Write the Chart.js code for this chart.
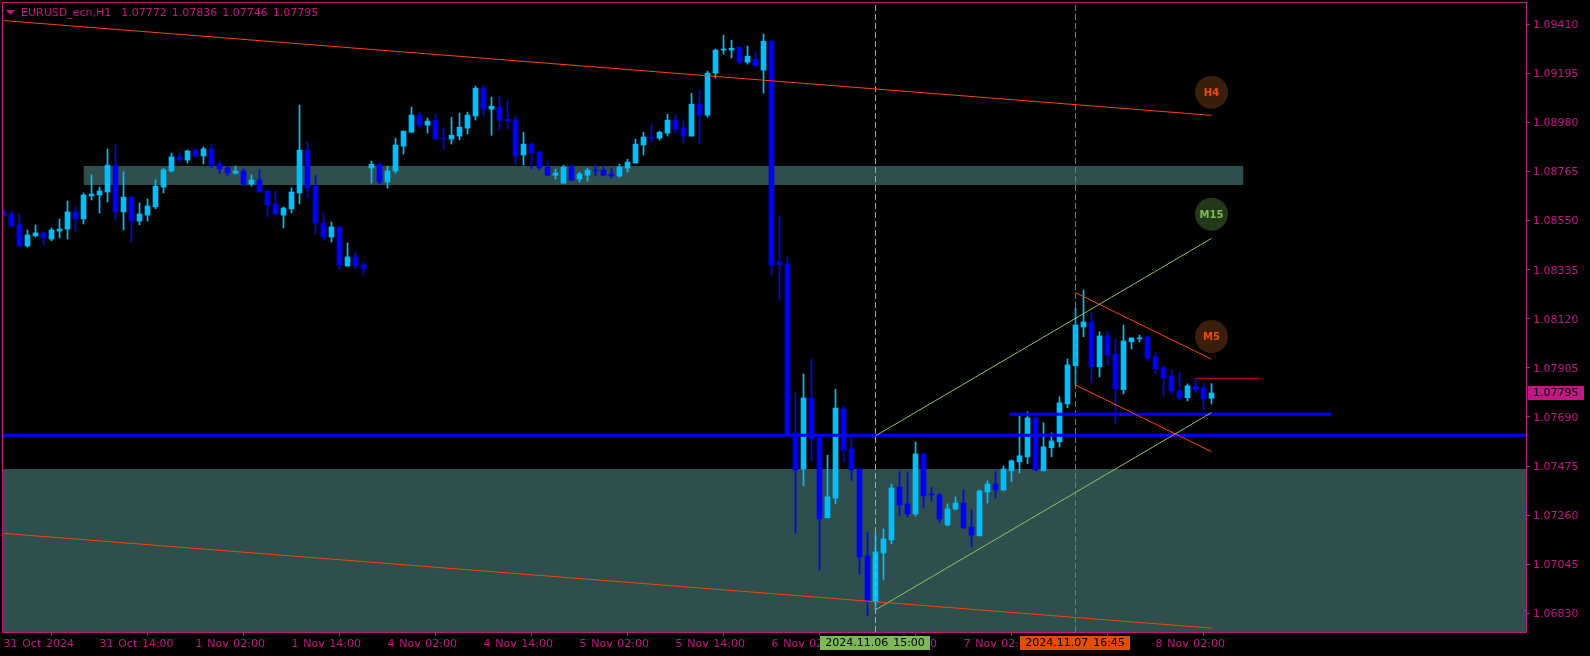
<!DOCTYPE html>
<html>
<head>
<meta charset="utf-8">
<style>
html,body{margin:0;padding:0;background:#000;overflow:hidden}
canvas{display:block}
</style>
<script src="https://cdn.jsdelivr.net/npm/chart.js@4/dist/chart.umd.min.js"></script>
</head>
<body>
<canvas id="c" width="1590" height="656"></canvas>
<script>
const opens = [1.08588,1.08579,1.08531,1.08439,1.08483,1.08496,1.08469,1.08504,1.08513,1.08588,
1.08557,1.08658,1.08662,1.08675,1.08793,1.08588,1.08653,1.08548,1.08574,1.08610,
1.08697,1.08767,1.08829,1.08815,1.08859,1.08833,1.08864,1.08798,1.08780,1.08758,
1.08767,1.08710,1.08728,1.08680,1.08623,1.08574,1.08601,1.08671,1.08859,1.08701,
1.08539,1.08478,1.08522,1.08351,1.08391,1.08356,1.08780,1.08797,1.08719,1.08767,
1.08876,1.08937,1.09012,1.08968,1.08990,1.08911,1.08907,1.08920,1.08955,1.09008,
1.09130,1.09038,1.09047,1.08994,1.08990,1.08837,1.08885,1.08850,1.08784,1.08749,
1.08714,1.08789,1.08732,1.08749,1.08771,1.08771,1.08754,1.08745,1.08780,1.08802,
1.08881,1.08916,1.08911,1.08933,1.08990,1.08955,1.08920,1.09060,1.09012,1.09196,
1.09297,1.09297,1.09310,1.09244,1.09257,1.09209,1.09336,1.08369,1.08360,1.07620,
1.07462,1.07773,1.07598,1.07248,1.07335,1.07725,1.07550,1.07462,1.07081,1.06880,
1.07094,1.07151,1.07383,1.07309,1.07265,1.07528,1.07353,1.07348,1.07217,1.07287,
1.07313,1.07208,1.07169,1.07361,1.07396,1.07370,1.07454,1.07493,1.07515,1.07686,
1.07454,1.07555,1.07581,1.07747,1.07914,1.08084,1.08106,1.07909,1.08045,1.07966,
1.07809,1.08019,1.08032,1.08041,1.07953,1.07905,1.07870,1.07804,1.07774,1.07826,
1.07817,1.07772];
const highs = [1.08593,1.08591,1.08579,1.08509,1.08531,1.08496,1.08518,1.08557,1.08636,1.08610,
1.08671,1.08750,1.08697,1.08864,1.08881,1.08763,1.08653,1.08627,1.08645,1.08728,
1.08780,1.08846,1.08846,1.08859,1.08864,1.08872,1.08885,1.08811,1.08789,1.08789,
1.08776,1.08750,1.08772,1.08680,1.08680,1.08610,1.08693,1.09056,1.08894,1.08750,
1.08583,1.08544,1.08526,1.08452,1.08413,1.08369,1.08811,1.08806,1.08789,1.08911,
1.08942,1.09047,1.09025,1.08999,1.09016,1.08955,1.09003,1.09021,1.09025,1.09139,
1.09143,1.09091,1.09095,1.09078,1.09008,1.08937,1.08889,1.08854,1.08811,1.08775,
1.08793,1.08789,1.08762,1.08780,1.08797,1.08793,1.08780,1.08797,1.08819,1.08907,
1.08937,1.08973,1.08942,1.09016,1.09012,1.08986,1.09108,1.09121,1.09205,1.09301,
1.09362,1.09340,1.09310,1.09314,1.09288,1.09367,1.09336,1.08570,1.08391,1.07795,
1.07878,1.07944,1.07598,1.07523,1.07812,1.07738,1.07602,1.07462,1.07186,1.07180,
1.07199,1.07396,1.07453,1.07445,1.07580,1.07532,1.07383,1.07357,1.07309,1.07340,
1.07370,1.07283,1.07370,1.07410,1.07453,1.07475,1.07502,1.07695,1.07712,1.07690,
1.07664,1.07620,1.07778,1.07944,1.08166,1.08246,1.08146,1.08063,1.08063,1.08032,
1.08093,1.08036,1.08049,1.08041,1.07975,1.07914,1.07896,1.07887,1.07835,1.07857,
1.07839,1.07836];
const lows = [1.08573,1.08522,1.08434,1.08434,1.08478,1.08443,1.08461,1.08474,1.08469,1.08504,
1.08535,1.08640,1.08583,1.08631,1.08553,1.08509,1.08456,1.08531,1.08548,1.08601,
1.08671,1.08763,1.08807,1.08802,1.08829,1.08798,1.08780,1.08758,1.08745,1.08754,
1.08701,1.08701,1.08675,1.08566,1.08574,1.08518,1.08583,1.08623,1.08649,1.08491,
1.08465,1.08456,1.08334,1.08351,1.08338,1.08312,1.08714,1.08710,1.08692,1.08758,
1.08841,1.08937,1.08959,1.08933,1.08907,1.08863,1.08885,1.08903,1.08929,1.08990,
1.09008,1.08924,1.08946,1.08951,1.08797,1.08793,1.08775,1.08771,1.08749,1.08732,
1.08714,1.08727,1.08719,1.08723,1.08745,1.08745,1.08736,1.08740,1.08762,1.08802,
1.08837,1.08894,1.08903,1.08920,1.08933,1.08889,1.08920,1.08885,1.09003,1.09174,
1.09279,1.09262,1.09235,1.09235,1.09227,1.09108,1.08311,1.08202,1.07610,1.07182,
1.07388,1.07497,1.07020,1.07248,1.07309,1.07493,1.07410,1.07002,1.06818,1.06845,
1.06976,1.07134,1.07256,1.07252,1.07256,1.07291,1.07322,1.07226,1.07213,1.07283,
1.07199,1.07121,1.07169,1.07313,1.07335,1.07366,1.07406,1.07445,1.07485,1.07454,
1.07454,1.07515,1.07559,1.07730,1.07830,1.08041,1.07839,1.07865,1.07918,1.07660,
1.07791,1.07988,1.08019,1.07936,1.07879,1.07782,1.07791,1.07765,1.07760,1.07795,
1.07721,1.07746];
const closes = [1.08573,1.08526,1.08439,1.08487,1.08496,1.08474,1.08509,1.08513,1.08588,1.08557,
1.08662,1.08666,1.08680,1.08793,1.08588,1.08653,1.08548,1.08579,1.08614,1.08701,
1.08772,1.08829,1.08815,1.08855,1.08833,1.08864,1.08793,1.08776,1.08758,1.08767,
1.08710,1.08728,1.08675,1.08618,1.08579,1.08605,1.08675,1.08859,1.08693,1.08539,
1.08478,1.08522,1.08356,1.08391,1.08351,1.08338,1.08797,1.08719,1.08767,1.08881,
1.08942,1.09012,1.08968,1.08986,1.08907,1.08907,1.08924,1.08959,1.09012,1.09130,
1.09038,1.09051,1.08990,1.08986,1.08832,1.08885,1.08846,1.08780,1.08749,1.08758,
1.08784,1.08727,1.08754,1.08771,1.08767,1.08749,1.08745,1.08784,1.08806,1.08885,
1.08916,1.08911,1.08937,1.08990,1.08951,1.08920,1.09060,1.09012,1.09196,1.09297,
1.09301,1.09305,1.09244,1.09270,1.09227,1.09336,1.08355,1.08356,1.07615,1.07458,
1.07773,1.07593,1.07243,1.07340,1.07729,1.07545,1.07458,1.07077,1.06884,1.07099,
1.07156,1.07379,1.07304,1.07265,1.07528,1.07344,1.07348,1.07243,1.07287,1.07313,
1.07204,1.07173,1.07366,1.07396,1.07370,1.07462,1.07498,1.07520,1.07686,1.07458,
1.07559,1.07585,1.07752,1.07918,1.08093,1.08106,1.07909,1.08045,1.07962,1.07813,
1.08023,1.08036,1.08036,1.07949,1.07900,1.07861,1.07804,1.07774,1.07826,1.07809,
1.07769,1.07795];

const yTicks = [1.09410,1.09195,1.08980,1.08765,1.08550,1.08335,1.08120,1.07905,1.07690,1.07475,1.07260,1.07045,1.06830];
const xTickIndex = [0,12,24,36,48,60,72,84,96,108,120,132,144];
const xTickLabels = ["31 Oct 2024","31 Oct 14:00","1 Nov 02:00","1 Nov 14:00","4 Nov 02:00","4 Nov 14:00","5 Nov 02:00","5 Nov 14:00","6 Nov 02:00","6 Nov 14:00","7 Nov 02:00","7 Nov 14:00","8 Nov 02:00"];

const Y_MIN = 1.06748, Y_MAX = 1.09503;
const X_MIN = -0.0625, X_MAX = 190.3125;

const h4Line = [[0,1.09426],[151,1.09011]];
const h4LineLow = [[0,1.07180],[151,1.06765]];
const m15Upper = [[109,1.07607],[151,1.08472]];
const m15Lower = [[109,1.06845],[151,1.07709]];
const m5Upper = [[134,1.08234],[151,1.07943]];
const m5Lower = [[134,1.07830],[151,1.07538]];
const mainLevel = [[X_MIN,1.07610],[X_MAX,1.07610]];
const shortLevel = [[125.8,1.07702],[166,1.07702]];
const redLevel = [[149,1.07859],[157,1.07859]];
const vLineM15 = [[109,Y_MIN],[109,Y_MAX]];
const vLineM5 = [[134,Y_MIN],[134,Y_MAX]];
const upperZone = {from:10,to:155,top:1.08789,bottom:1.08706};
const lowerZone = {top:1.07462,bottom:Y_MIN};
const badges = [{name:"H4",x:151,y:1.09112,fill:"#3a1f0c",text:"#ee4a0a"},
                {name:"M15",x:151,y:1.08578,fill:"#24381c",text:"#7fbf50"},
                {name:"M5",x:151,y:1.08042,fill:"#3a1f0c",text:"#ee4a0a"}];
const titleText = "EURUSD_ecn,H1  1.07772 1.07836 1.07746 1.07795";
const stamps = [{x:109,text:"2024.11.06 15:00",fill:"#7db957"},{x:134,text:"2024.11.07 16:45",fill:"#e84c00"}];

const PINK = "#c71585", UP = "#00bfff", DOWN = "#0000ff", ZONE = "#2f4f4f", ORANGE = "#ff4500";
const FONT = '11px "DejaVu Sans"';
const idx = opens.map((_,i)=>i);
const colors = idx.map(i=>closes[i]>=opens[i]?UP:DOWN);
const toXY = a=>a.map(p=>({x:p[0],y:p[1]}));
const line = (pts,color,width,extra)=>Object.assign({type:"line",data:toXY(pts),borderColor:color,borderWidth:width,pointRadius:0,fill:false,order:0,tension:0},extra||{});

const overlay = {
  id:"overlay",
  beforeDraw(chart){
    const c=chart.ctx;c.save();c.fillStyle="#000";c.fillRect(0,0,chart.width,chart.height);c.restore();
    c.wordSpacing="1.2px";
  },
  afterDatasetsDraw(chart){
    const c=chart.ctx,xs=chart.scales.x,ys=chart.scales.y;
    c.save();
    c.textBaseline="middle";
    c.textAlign="center";
    c.font='bold 10px "DejaVu Sans"';
    badges.forEach(b=>{c.fillStyle=b.text;c.fillText(b.name,xs.getPixelForValue(b.x),ys.getPixelForValue(b.y)+1);});
    c.restore();
  },
  afterDraw(chart){
    const c=chart.ctx,xs=chart.scales.x,ys=chart.scales.y;
    c.save();
    c.strokeStyle=PINK;c.lineWidth=1;
    c.strokeRect(2.5,2.5,1524,630);
    c.font=FONT;c.textBaseline="middle";
    // title
    c.fillStyle=PINK;
    c.beginPath();c.moveTo(6,10);c.lineTo(15,10);c.lineTo(10.5,15);c.closePath();c.fill();
    c.textAlign="left";
    c.wordSpacing="1.5px";
    c.fillText(titleText,21,13);
    // last price tag
    const last=closes[closes.length-1],py=Math.round(ys.getPixelForValue(last));
    c.fillStyle=PINK;c.fillRect(1528,py-7,56,14);
    c.fillStyle="#000";c.fillText(last.toFixed(5),1533,py+0.5);
    // time stamps
    stamps.forEach(s=>{
      const cx=Math.floor(xs.getPixelForValue(s.x));
      c.fillStyle=s.fill;c.fillRect(cx-55,636,110,14);
      c.fillStyle="#000";c.textAlign="center";c.fillText(s.text,cx,643.5);
    });
    c.restore();
  }
};

new Chart(document.getElementById("c"),{
  type:"bar",
  plugins:[overlay],
  data:{datasets:[
    Object.assign(line([[upperZone.from,upperZone.top],[upperZone.to,upperZone.top]],"rgba(0,0,0,0)",0),{fill:{value:upperZone.bottom},backgroundColor:ZONE,order:5}),
    Object.assign(line([[X_MIN,lowerZone.top],[X_MAX,lowerZone.top]],"rgba(0,0,0,0)",0),{fill:{value:lowerZone.bottom},backgroundColor:ZONE,order:5}),
    {type:"bar",data:idx.map(i=>({x:i,y:[lows[i],highs[i]]})),backgroundColor:colors,barThickness:1,grouped:false,order:3,borderWidth:0},
    {type:"bar",data:idx.map(i=>({x:i,y:[opens[i],closes[i]]})),backgroundColor:colors,barThickness:5,grouped:false,order:2,borderWidth:0},
    line(h4Line,ORANGE,1),
    line(h4LineLow,ORANGE,1),
    line(m15Upper,"#8fc45a",1),
    line(m15Lower,"#8fc45a",1),
    line(m5Upper,ORANGE,1),
    line(m5Lower,ORANGE,1),
    line(mainLevel,DOWN,3),
    line(shortLevel,DOWN,3),
    line(redLevel,"#ff0000",1),
    line(vLineM15,"#8fc45a",1,{borderDash:[6,3]}),
    line(vLineM5,"#e8501a",1,{borderDash:[6,3]}),
    {type:"line",showLine:false,data:badges.map(b=>({x:b.x,y:b.y})),pointRadius:16.5,pointBorderWidth:0,pointBackgroundColor:badges.map(b=>b.fill),order:1}
  ]},
  options:{
    responsive:false,animation:false,devicePixelRatio:1,
    layout:{autoPadding:false,padding:{left:3,top:3,right:0,bottom:0}},
    plugins:{legend:{display:false},tooltip:{enabled:false}},
    events:[],
    scales:{
      x:{
        type:"linear",min:X_MIN,max:X_MAX,offset:false,
        grid:{drawOnChartArea:false,color:PINK,tickLength:4,tickWidth:1},
        border:{display:false},
        afterBuildTicks(s){s.ticks=xTickIndex.map(v=>({value:v}));},
        afterFit(s){s.height=24;s.paddingLeft=0;s.paddingRight=0;},
        ticks:{color:PINK,font:{family:"DejaVu Sans",size:11},autoSkip:false,maxRotation:0,minRotation:0,align:"start",padding:2,
          callback:v=>xTickLabels[xTickIndex.indexOf(v)]}
      },
      y:{
        position:"right",min:Y_MIN,max:Y_MAX,
        grid:{drawOnChartArea:false,color:PINK,tickLength:4,tickWidth:1},
        border:{display:false},
        afterBuildTicks(s){s.ticks=yTicks.map(v=>({value:v}));},
        afterFit(s){s.width=64;s.paddingTop=0;s.paddingBottom=0;},
        ticks:{color:PINK,font:{family:"DejaVu Sans",size:11},autoSkip:false,padding:3,labelOffset:1,callback:v=>v.toFixed(5)}
      }
    }
  }
});
</script>
</body>
</html>
